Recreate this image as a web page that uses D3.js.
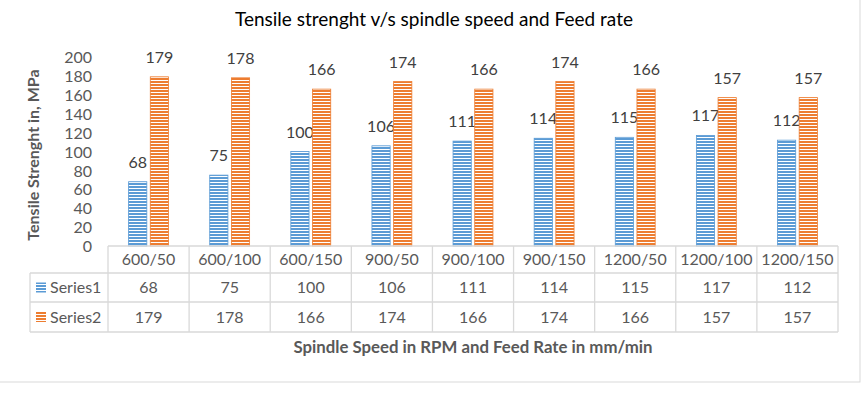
<!DOCTYPE html>
<html><head><meta charset="utf-8">
<script src="https://cdn.jsdelivr.net/npm/d3@7"></script>
<style>body{margin:0;background:#fff}svg{display:block}</style>
</head><body>
<script>
const categories = ["600/50","600/100","600/150","900/50","900/100","900/150","1200/50","1200/100","1200/150"];
const seriesNames = ["Series1","Series2"];
const series1 = [68,75,100,106,111,114,115,117,112];
const series2 = [179,178,166,174,166,174,166,157,157];
const yTicks = [0,20,40,60,80,100,120,140,160,180,200];
const colors = ["#5b9bd5","#ed7d31"];

(function(){
const W=865,H=395;
const svg=d3.select("body").append("svg").attr("width",W).attr("height",H);
const font="Lato, 'Open Sans', sans-serif";
const defs=svg.append("defs");
colors.forEach((c,i)=>{
  const p=defs.append("pattern").attr("id","pat"+i).attr("patternUnits","userSpaceOnUse").attr("width",6).attr("height",3);
  p.append("rect").attr("width",6).attr("height",3).attr("fill","#fff");
  p.append("rect").attr("width",6).attr("height",2).attr("fill",c);
});
svg.append("rect").attr("x",-1).attr("y",-1).attr("width",861).attr("height",383).attr("fill","#fff").attr("stroke","#d9d9d9");

const pl=108,pr=838,pt=57,pb=246;
const x=d3.scaleBand().domain(categories).range([pl,pr]);
const y=d3.scaleLinear().domain([0,200]).range([pb,pt]);
const xs=d3.scaleBand().domain(seriesNames).range([0,x.bandwidth()]).paddingInner(0.16).paddingOuter(0.95);

svg.append("text").attr("x",434).attr("y",26).attr("text-anchor","middle").attr("font-family",font).attr("font-size",19).attr("fill","#000").text("Tensile strenght v/s spindle speed and Feed rate");

const ya=svg.append("g").attr("transform",`translate(${pl-16},0)`).call(d3.axisLeft(y).tickValues(yTicks).tickSize(0).tickPadding(0));
ya.select(".domain").remove();
ya.selectAll("text").attr("font-family",font).attr("font-size",16).attr("fill","#595959").attr("dy","0.35em");

svg.append("text").attr("transform","translate(39,155) rotate(-90)").attr("text-anchor","middle").attr("font-family",font).attr("font-weight","bold").attr("font-size",16).attr("fill","#595959").text("Tensile Strenght in, MPa");

const data=[series1,series2];
data.forEach((vals,si)=>{
  const g=svg.append("g");
  g.selectAll("rect").data(vals).join("rect")
    .attr("x",(d,i)=>x(categories[i])+xs(seriesNames[si])).attr("width",xs.bandwidth())
    .attr("y",d=>y(d)).attr("height",d=>y(0)-y(d))
    .attr("fill",`url(#pat${si})`).attr("stroke",colors[si]).attr("stroke-width",0.8);
  g.selectAll("text").data(vals).join("text")
    .attr("x",(d,i)=>x(categories[i])+xs(seriesNames[si])+xs.bandwidth()/2)
    .attr("y",d=>y(d)-14).attr("text-anchor","middle")
    .attr("font-family",font).attr("font-size",16).attr("fill","#404040").text(d=>d);
});

const rowY=[246,273,302,332];
const tg=svg.append("g").attr("stroke","#d9d9d9").attr("stroke-width",1.3);
tg.append("line").attr("x1",pl).attr("x2",pr).attr("y1",rowY[0]).attr("y2",rowY[0]);
[1,2,3].forEach(r=>tg.append("line").attr("x1",30).attr("x2",pr).attr("y1",rowY[r]).attr("y2",rowY[r]));
categories.forEach(c=>tg.append("line").attr("x1",x(c)).attr("x2",x(c)).attr("y1",rowY[0]).attr("y2",rowY[3]));
tg.append("line").attr("x1",pr).attr("x2",pr).attr("y1",rowY[0]).attr("y2",rowY[3]);
tg.append("line").attr("x1",30).attr("x2",30).attr("y1",rowY[1]).attr("y2",rowY[3]);

const xa=svg.append("g").attr("transform",`translate(0,${(rowY[0]+rowY[1])/2})`).call(d3.axisBottom(x).tickSize(0).tickPadding(0));
xa.select(".domain").remove();
xa.selectAll("text").attr("font-family",font).attr("font-size",16).attr("fill","#595959").attr("dy","0.35em");

data.forEach((vals,si)=>{
  const cy=(rowY[si+1]+rowY[si+2])/2;
  svg.append("g").selectAll("text").data(vals).join("text")
    .attr("x",(d,i)=>x(categories[i])+x.bandwidth()/2).attr("y",cy).attr("dy","0.35em").attr("text-anchor","middle")
    .attr("font-family",font).attr("font-size",16).attr("fill","#595959").text(d=>d);
  svg.append("rect").attr("x",36).attr("y",cy-5).attr("width",10).attr("height",10).attr("fill",`url(#pat${si})`);
  svg.append("text").attr("x",50).attr("y",cy).attr("dy","0.35em").attr("font-family",font).attr("font-size",16).attr("fill","#595959").text(seriesNames[si]);
});

svg.append("text").attr("x",473).attr("y",353).attr("text-anchor","middle").attr("font-family",font).attr("font-weight","bold").attr("font-size",16.8).attr("fill","#595959").text("Spindle Speed in RPM and Feed Rate in mm/min");
})();
</script>
</body></html>
